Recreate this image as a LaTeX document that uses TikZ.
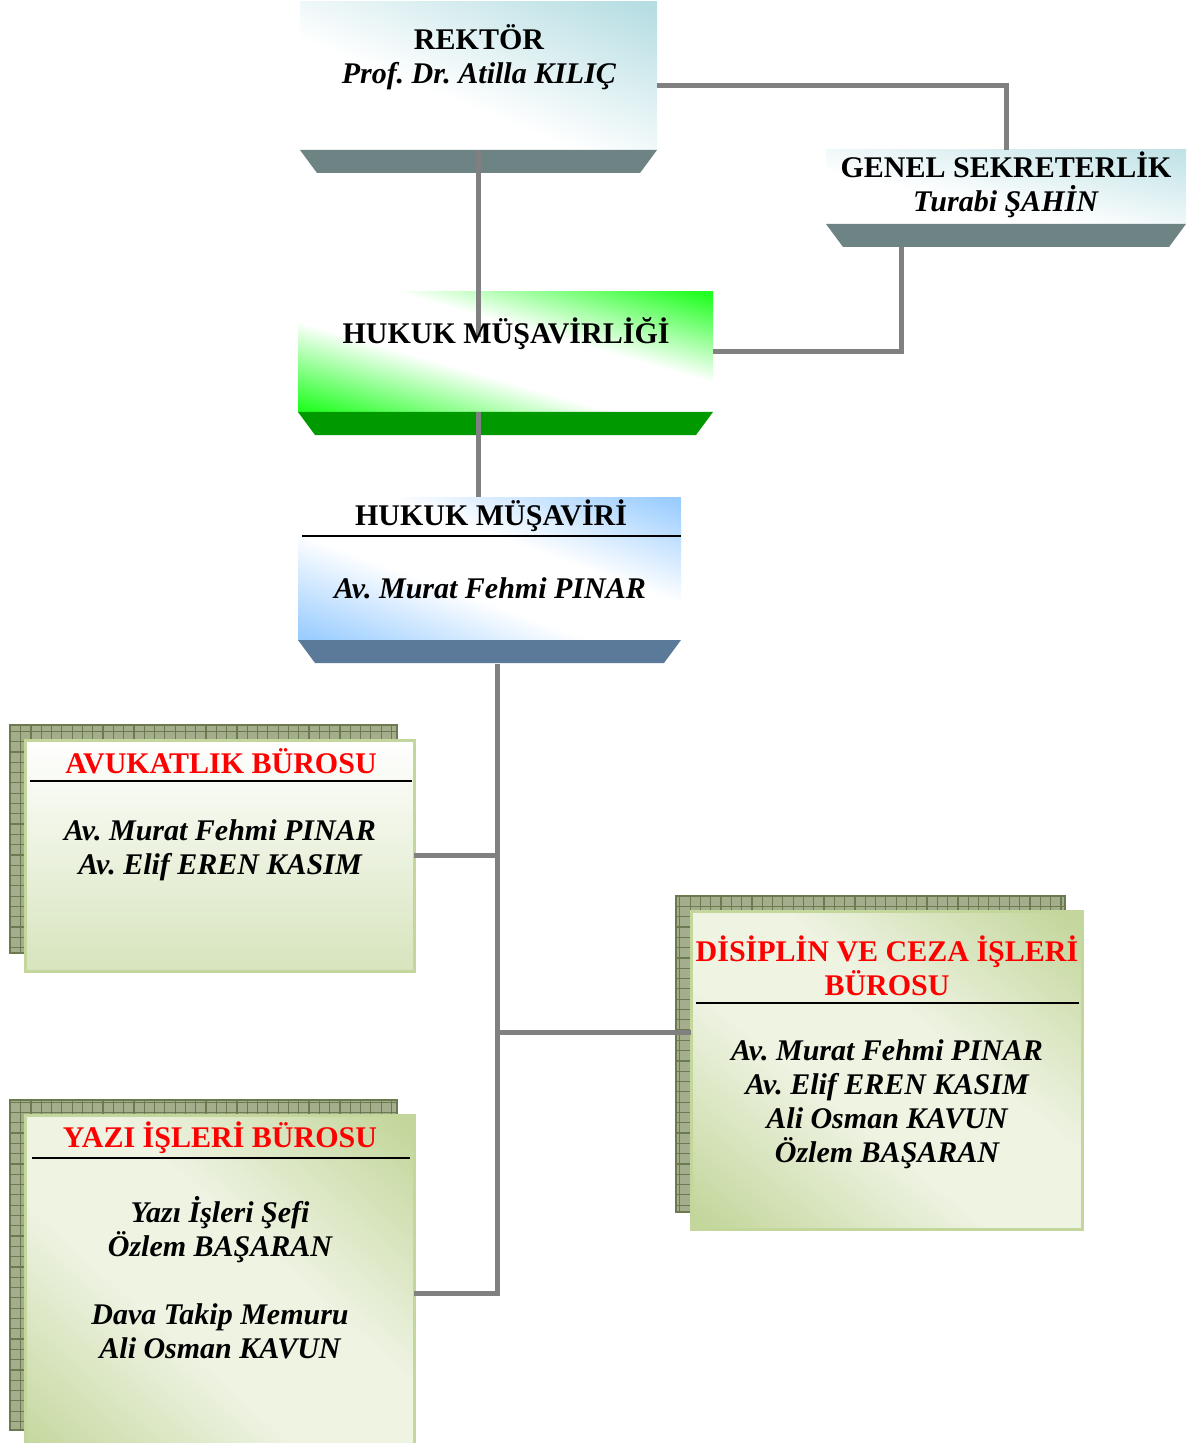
\documentclass[tikz,border=0pt]{standalone}
\usepackage{fontspec}
\setmainfont{Liberation Serif}
\usetikzlibrary{calc,fit}
\definecolor{rekcyan}{HTML}{B5DDE2}
\definecolor{rekbase}{HTML}{6E8384}
\definecolor{musgreen}{HTML}{22FF22}
\definecolor{musbase}{HTML}{009900}
\definecolor{musblue}{HTML}{99CCFF}
\definecolor{blubase}{HTML}{5B7999}
\definecolor{olivelt}{HTML}{C3D69B}
\definecolor{olivepale}{HTML}{EEF3E2}
\definecolor{olivemid}{HTML}{D7E4BD}
\definecolor{gridfill}{HTML}{A4AE8C}
\definecolor{gridline}{HTML}{6C7A4F}
\definecolor{connector}{HTML}{808080}
\pgfdeclareverticalshading{cyanband}{100bp}{color(0bp)=(white); color(47bp)=(white); color(62bp)=(rekcyan); color(100bp)=(rekcyan)}
\pgfdeclareverticalshading{greenband}{100bp}{color(0bp)=(musgreen); color(38bp)=(musgreen); color(47bp)=(white); color(53bp)=(white); color(62bp)=(musgreen); color(100bp)=(musgreen)}
\pgfdeclareverticalshading{blueband}{100bp}{color(0bp)=(musblue); color(38bp)=(musblue); color(47bp)=(white); color(53bp)=(white); color(62bp)=(musblue); color(100bp)=(musblue)}
\pgfdeclareverticalshading{oliveband}{100bp}{color(0bp)=(olivelt); color(38bp)=(olivelt); color(47bp)=(olivepale); color(53bp)=(olivepale); color(62bp)=(olivelt); color(100bp)=(olivelt)}
\def\gridshadow(#1)(#2){\fill[gridfill] (#1) rectangle (#2); \draw[gridline, line width=0.6pt, step=5.15pt] (#1) grid (#2); \draw[gridline, line width=0.6pt] (#1) rectangle (#2);}
\def\boxbase(#1)[#2]{\fill[#2] (#1.south west) -- (#1.south east) -- ++(-17,23) -- ($(#1.south west)+(17,23)$) -- cycle;}
\def\diagfill(#1)[#2][#3][#4]{\begin{scope}\clip (#1.south west) rectangle (#1.north east); \shade[shading=#2, transform canvas={shift={(#1.center)}, rotate=#3}] (-#4,-#4) rectangle (#4,#4); \end{scope}}

\begin{document}
\frenchspacing
\begin{tikzpicture}[x=0.5pt,y=-0.5pt,
	boxarea/.style={inner sep=0pt, outer sep=0pt},
	conn/.style={draw=connector, line width=2.5pt},
	headtxt/.style={font=\bfseries\fontsize{15}{17}\selectfont, align=center, inner sep=0pt},
	nametxt/.style={font=\bfseries\itshape\fontsize{15}{17}\selectfont, align=center, inner sep=0pt},
	burotxt/.style={headtxt, text=red},
	buroedge/.style={draw=olivelt, line width=1.5pt}]
		%%%%% START %%%%%
		\useasboundingbox (0,0) rectangle (1188,1443);
		\clip (0,0) rectangle (1188,1443);
		
		% top boxes
		\node[fit={(300,2) (657,150)}, boxarea] (rektor) {};
		\diagfill(rektor)[cyanband][-22][136pt]
		\boxbase(rektor)[rekbase]
		\node[headtxt] (rektorlbl) at (479,57) {REKTÖR\\\textit{Prof. Dr. Atilla KILIÇ}};
		
		\node[fit={(826,150) (1186,224)}, boxarea] (genel) {};
		\diagfill(genel)[cyanband][-12][92pt]
		\boxbase(genel)[rekbase]
		\node[headtxt] (genellbl) at (1006,185) {GENEL SEKRETERLİK\\\textit{Turabi ŞAHİN}};
		
		\node[fit={(298,292) (713,412)}, boxarea] (musavirlik) {};
		\diagfill(musavirlik)[greenband][-16][115pt]
		\boxbase(musavirlik)[musbase]
		\draw[conn] (rektor.south) -- ($(rektor.south |- musavirlik.north)+(0,45)$);
		\node[headtxt] (musavirliklbl) at (506,334) {HUKUK MÜŞAVİRLİĞİ};
		
		\node[fit={(298,497) (681,640)}, boxarea] (musaviri) {};
		\diagfill(musaviri)[blueband][-20][134pt]
		\boxbase(musaviri)[blubase]
		\draw[line width=1pt] (302,536) -- (681,536);
		\node[headtxt] (musavirilbl) at (491,516) {HUKUK MÜŞAVİRİ};
		\node[nametxt] (musaviriad) at (490,588) {Av. Murat Fehmi PINAR};
		
		% bureaus
		\gridshadow(10,725)(397,953)
		\node[fit={(25,740) (414,971)}, boxarea, buroedge, top color=white, bottom color=olivemid] (avukat) {};
		\draw[line width=1pt] (30,781) -- (412,781);
		\node[burotxt] (avukatlbl) at (221,761) {AVUKATLIK BÜROSU};
		\node[nametxt] (avukatad) at (220,850) {Av. Murat Fehmi PINAR\\Av. Elif EREN KASIM};
		
		\gridshadow(676,896)(1065,1212)
		\node[fit={(691,911) (1082,1229)}, boxarea] (disiplin) {};
		\diagfill(disiplin)[oliveband][-39][246pt]
		\draw[buroedge] (disiplin.south west) rectangle (disiplin.north east);
		\draw[line width=1pt] (696,1003) -- (1079,1003);
		\node[burotxt] (disiplinlbl) at (887,966) {DİSİPLİN VE CEZA İŞLERİ\\BÜROSU};
		\node[nametxt] (disiplinad) at (887,1104) {Av. Murat Fehmi PINAR\\Av. Elif EREN KASIM\\Ali Osman KAVUN\\Özlem BAŞARAN};
		
		\gridshadow(10,1100)(397,1430)
		\node[fit={(25,1115) (414,1471)}, boxarea] (yazi) {};
		\diagfill(yazi)[oliveband][-42][262pt]
		\draw[buroedge] (yazi.south west) rectangle (yazi.north east);
		\draw[line width=1pt] (32,1158) -- (410,1158);
		\node[burotxt] (yazilbl) at (220,1138) {YAZI İŞLERİ BÜROSU};
		\node[nametxt] (yaziad) at (220,1278) {Yazı İşleri Şefi\\Özlem BAŞARAN\\[17pt]Dava Takip Memuru\\Ali Osman KAVUN};
		
		% connectors
		\coordinate (rekfoot) at ($(rektor.south)+(0,23)$);
		\coordinate (genelfoot) at ($(genel.south)+(-105,23)$);
		\coordinate (trunk) at ($(musaviri.south)+(7.5,24)$);
		\coordinate (disin) at ($(disiplin.west)+(0,-38)$);
		\draw[conn] ($(rektor.east)+(0,10)$) -| (genel.north);
		\draw[conn] (genelfoot) |- (musavirlik.east);
		\draw[conn] (musavirlik.south -| rekfoot) -- (rekfoot |- musaviri.north);
		\draw[conn] (trunk) |- (yazi.east);
		\draw[conn] (avukat.east) -- (avukat.east -| trunk);
		\draw[conn] (disin) -- (disin -| trunk);
		%%%%% END %%%%%
\end{tikzpicture}
\end{document}
